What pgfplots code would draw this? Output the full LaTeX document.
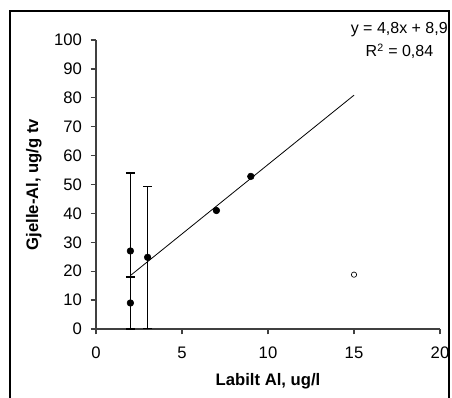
\documentclass[border=0pt]{standalone}
\usepackage{fontspec}
\setmainfont{Liberation Sans}
\usepackage{pgfplots}
\pgfplotsset{compat=1.18}
\begin{document}
\begin{tikzpicture}[x=1pt,y=1pt]
\useasboundingbox (-72,-51.75) rectangle (267,246.75);
\draw[line width=1pt] (-64.5,-70) -- (-64.5,238.5) -- (264.75,238.5) -- (264.75,-70);
\begin{axis}[
  at={(0,0)}, anchor=south west,
  scale only axis, width=258pt, height=216.75pt,
  xmin=0, xmax=20, ymin=0, ymax=100,
  axis lines*=left,
  axis line style={line width=1pt, black!75},
  xtick={0,5,10,15,20}, ytick={0,10,...,100},
  tick align=outside, major tick length=4pt,
  tick style={black!75, line width=1pt},
  /pgf/number format/assume math mode=true,
  tick label style={font=\fontsize{12.5}{15}\selectfont},
  xticklabel style={yshift=-6pt},
  yticklabel style={xshift=-3pt},
  xlabel={\bfseries Labilt Al, ug/l},
  ylabel={\bfseries Gjelle-Al, ug/g tv},
  label style={font=\fontsize{12.5}{15}\selectfont},
  x label style={at={(axis description cs:0.5,-0.1972)}, anchor=base},
  y label style={at={(axis description cs:-0.1686,0.5)}, anchor=base},
  clip=false,
]
\addplot[no marks, black, line width=0.6pt] coordinates {(2,18.5) (15,80.9)};
\addplot[only marks, mark=*, mark size=2.5pt, black,
  error bars/.cd, y dir=both, y explicit,
  error bar style={line width=0.9pt},
  error mark options={rotate=90, mark size=3.4pt, line width=0.9pt}]
  table[x=x, y=y, y error=e] {
  x y e
  2 27 27
  2 9 9
  3 24.8 24.5
};
\addplot[only marks, mark=*, mark size=2.5pt, black] coordinates {(7,41) (9,52.8)};
\addplot[only marks, mark=o, mark size=2pt, black, line width=0.5pt] coordinates {(15,18.8)};
\end{axis}
\node[anchor=base east, font=\fontsize{12}{14}\selectfont, inner sep=0pt] at (264,221.6) {y = 4,8x + 8,9};
\node[anchor=base, font=\fontsize{12}{14}\selectfont, inner sep=0pt] at (227.6,204) {R\textsuperscript{2} = 0,84};
\end{tikzpicture}
\end{document}
